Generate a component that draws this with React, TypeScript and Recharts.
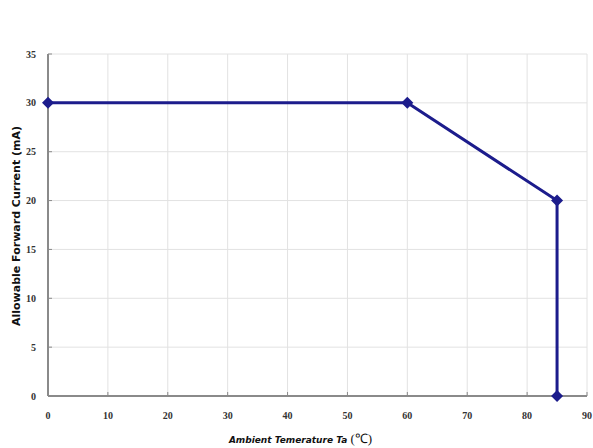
import React from 'react';
import { LineChart, Line, XAxis, YAxis, CartesianGrid } from 'recharts';

const temperature = [0, 60, 85, 85];
const current = [30, 30, 20, 0];
const xTicks = [0, 10, 20, 30, 40, 50, 60, 70, 80, 90];
const yTicks = [0, 5, 10, 15, 20, 25, 30, 35];

const data = temperature.map((t, i) => ({ t, mA: current[i] }));

const Diamond = (props: any) => {
  const { cx, cy } = props;
  const r = 6;
  return (
    <polygon
      points={`${cx},${cy - r} ${cx + r},${cy} ${cx},${cy + r} ${cx - r},${cy}`}
      fill="#1c1c8c"
    />
  );
};

const tickStyle = { fontFamily: '"Liberation Serif", serif', fontSize: 10, fontWeight: 700, fill: '#333' };

export default function App() {
  return (
    <div style={{ position: 'absolute', left: 0, top: 0, width: 593, height: 448, background: '#fff' }}>
      <LineChart width={593} height={448} data={data} margin={{ top: 54, right: 6, left: 8, bottom: 22 }}>
        <CartesianGrid stroke="#e2e2e2" strokeWidth={1} />
        <XAxis
          dataKey="t"
          type="number"
          domain={[0, 90]}
          ticks={xTicks}
          height={30}
          tickMargin={12}
          tickSize={4}
          stroke="#8a8a8a"
          strokeWidth={2}
          tick={tickStyle}
          tickLine={{ stroke: '#8a8a8a', strokeWidth: 1, transform: 'translate(0,-4)' }}
          interval={0}
        />
        <YAxis
          type="number"
          domain={[0, 35]}
          ticks={yTicks}
          width={40}
          tickMargin={8}
          tickSize={4}
          stroke="#8a8a8a"
          strokeWidth={2}
          tick={tickStyle}
          tickLine={{ stroke: '#8a8a8a', strokeWidth: 1, transform: 'translate(4,0)' }}
          interval={0}
        />
        <Line
          dataKey="mA"
          stroke="#1c1c8c"
          strokeWidth={3}
          dot={<Diamond />}
          activeDot={false}
          isAnimationActive={false}
        />
      </LineChart>
      <div
        style={{
          position: 'absolute',
          left: 0,
          top: 429,
          width: 593,
          textAlign: 'center',
          fontFamily: '"DejaVu Sans", sans-serif',
          fontSize: 9,
          fontWeight: 700,
          fontStyle: 'italic',
          color: '#111',
          paddingLeft: 8,
          boxSizing: 'border-box',
        }}
      >
        Ambient Temerature Ta <span style={{ fontFamily: '"Liberation Serif", serif', fontStyle: 'normal', fontWeight: 400, fontSize: 13 }}>(℃)</span>
      </div>
      <div
        style={{
          position: 'absolute',
          left: 16,
          top: 226,
          transform: 'translate(-50%, -50%) rotate(-90deg)',
          whiteSpace: 'nowrap',
          fontFamily: '"DejaVu Sans", sans-serif',
          fontSize: 11,
          fontWeight: 700,
          color: '#111',
        }}
      >
        Allowable Forward Current (mA)
      </div>
    </div>
  );
}
